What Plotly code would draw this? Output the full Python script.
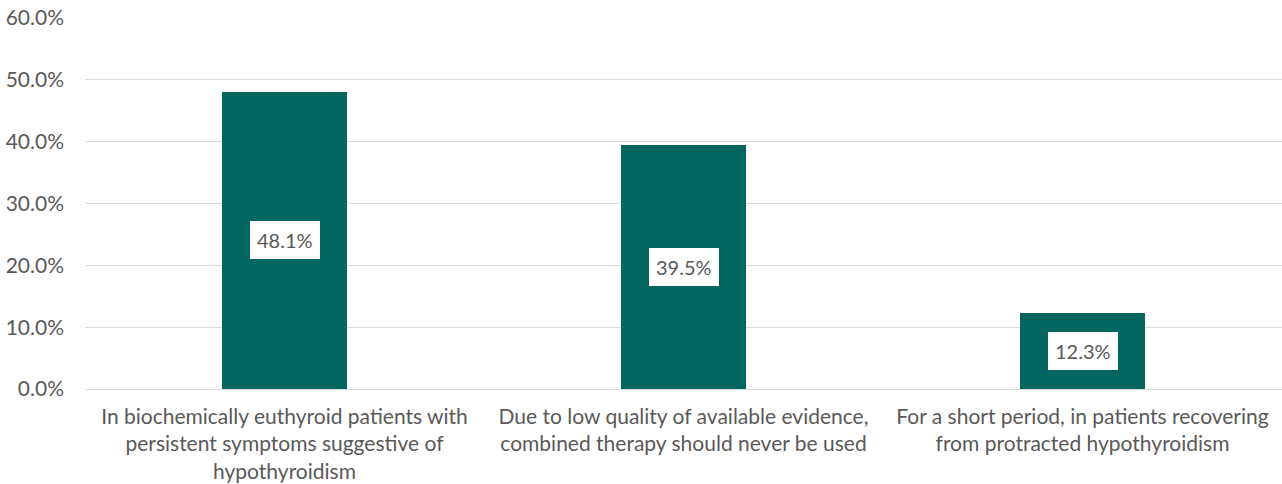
import plotly.graph_objects as go

categories = [
    "In biochemically euthyroid patients with<br>persistent symptoms suggestive of<br>hypothyroidism",
    "Due to low quality of available evidence,<br>combined therapy should never be used",
    "For a short period, in patients recovering<br>from protracted hypothyroidism",
]
values = [48.1, 39.5, 12.3]
labels = ["48.1%", "39.5%", "12.3%"]
xpos = [0, 1, 2]

FONT = "Lato, Open Sans, sans-serif"

fig = go.Figure()
fig.add_trace(go.Bar(x=xpos, y=values, width=0.3125, marker_color="#03665f",
                     marker_line_width=0, hoverinfo="skip"))

for x, v, t in zip(xpos, values, labels):
    fig.add_annotation(x=x, y=v / 2, text=t, showarrow=False,
                       font=dict(family=FONT, size=20, color="#595959"),
                       bgcolor="white", borderpad=7, borderwidth=0)

fig.update_layout(
    width=1282, height=484,
    margin=dict(l=85, r=0, t=18, b=95),
    paper_bgcolor="white", plot_bgcolor="white",
    showlegend=False,
    font=dict(family=FONT, color="#595959"),
    bargap=0,
)
fig.update_xaxes(tickmode="array", tickvals=xpos, ticktext=categories,
                 range=[-0.5, 2.5], showgrid=False, showline=False, zeroline=False,
                 tickfont=dict(size=21, color="#595959"), ticks="",
                 ticklabelstandoff=13)
fig.update_yaxes(range=[0, 60], dtick=10, tickformat=".1f", ticksuffix="%",
                 showgrid=True, gridcolor="#d9d9d9", gridwidth=1,
                 zeroline=True, zerolinecolor="#d9d9d9", zerolinewidth=1,
                 tickfont=dict(size=21, color="#595959"), ticklabelstandoff=20,
                 showline=False)

fig.write_html("out.html")
